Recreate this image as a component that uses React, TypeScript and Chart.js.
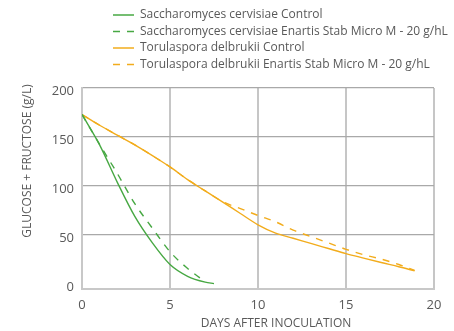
import React, { useEffect, useRef } from "react";
import { Chart, registerables } from "chart.js";

Chart.register(...registerables);

// ---- Data ----
const seriesLabels = [
  "Saccharomyces cervisiae Control",
  "Saccharomyces cervisiae Enartis Stab Micro M - 20 g/hL",
  "Torulaspora delbrukii Control",
  "Torulaspora delbrukii Enartis Stab Micro M - 20 g/hL",
];

const scControlDays = [0, 1, 2, 3, 4, 5, 6, 7, 7.5];
const scControl = [173, 142, 104, 69, 42, 20, 8, 2, 0.5];

const scStabDays = [0, 1, 2, 3, 4, 5, 6, 6.8];
const scStab = [173, 142.5, 113, 82, 57, 33, 16, 5];

const tdDays = [0, 1, 2, 3, 4, 5, 6, 7, 8, 9, 10, 11, 12, 13, 14, 15, 16, 17, 18, 18.9];
const tdControl = [173, 162, 152, 142, 131, 119.5, 106.5, 95, 83.6, 72, 60.5, 52, 46.8, 41.5, 36.3, 31.1, 26.5, 22, 17.7, 13.5];
const tdStab = [173, 162, 152, 142, 131, 119.5, 106.5, 95, 84, 77, 70, 63.5, 55, 48.5, 42, 35.5, 30, 25.5, 20, 14];

const xTicks = [0, 5, 10, 15, 20];
const yTicks = [0, 50, 100, 150, 200];

const xTitle = "DAYS AFTER INOCULATION";
const yTitle = "GLUCOSE + FRUCTOSE (g/L)";

const GREEN = "#47a843";
const ORANGE = "#f2ac1c";
const TEXT = "#595959";
const FONT = "'Open Sans', 'Noto Sans', sans-serif";

const pts = (xs: number[], ys: number[]) => xs.map((x, i) => ({ x, y: ys[i] }));

const overlayPlugin = {
  id: "overlay",
  afterDraw(chart: any) {
    const ctx = chart.ctx as CanvasRenderingContext2D;
    const area = chart.chartArea;
    ctx.save();
    // legend
    const rowY = [15, 31.5, 48, 64.5];
    chart.data.datasets.forEach((ds: any, i: number) => {
      const y = rowY[i];
      ctx.beginPath();
      ctx.strokeStyle = ds.borderColor;
      ctx.lineWidth = 1.5;
      ctx.setLineDash(ds.borderDash && ds.borderDash.length ? [7, 7] : []);
      ctx.moveTo(113, y);
      ctx.lineTo(134, y);
      ctx.stroke();
      ctx.setLineDash([]);
      ctx.fillStyle = TEXT;
      ctx.font = `12px ${FONT}`;
      ctx.textBaseline = "middle";
      ctx.textAlign = "left";
      ctx.fillText(ds.label, 140, y);
    });
    // axis titles
    ctx.fillStyle = TEXT;
    ctx.font = `12px ${FONT}`;
    ctx.textAlign = "center";
    ctx.textBaseline = "middle";
    ctx.fillText(xTitle, 276, 324);
    ctx.translate(28, 161);
    ctx.rotate(-Math.PI / 2);
    ctx.fillText(yTitle, 0, 0);
    ctx.restore();
  },
};

export default function App() {
  const ref = useRef<HTMLCanvasElement | null>(null);
  useEffect(() => {
    document.body.style.margin = "0";
    const canvas = ref.current;
    if (!canvas) return;
    const chart = new Chart(canvas, {
      type: "line",
      data: {
        datasets: [
          {
            label: seriesLabels[0],
            data: pts(scControlDays, scControl),
            borderColor: GREEN,
            borderWidth: 1.4,
            borderDash: [],
          },
          {
            label: seriesLabels[1],
            data: pts(scStabDays, scStab),
            borderColor: GREEN,
            borderWidth: 1.4,
            borderDash: [7, 7],
          },
          {
            label: seriesLabels[2],
            data: pts(tdDays, tdControl),
            borderColor: ORANGE,
            borderWidth: 1.4,
            borderDash: [],
          },
          {
            label: seriesLabels[3],
            data: pts(tdDays, tdStab),
            borderColor: ORANGE,
            borderWidth: 1.4,
            borderDash: [7, 7],
          },
        ] as any,
      },
      options: {
        responsive: false,
        animation: false,
        events: [],
        elements: {
          point: { radius: 0 },
          line: { cubicInterpolationMode: "monotone", fill: false },
        },
        layout: { padding: { left: 0, right: 20, top: 88, bottom: 0 } },
        plugins: { legend: { display: false }, tooltip: { enabled: false } },
        scales: {
          x: {
            type: "linear",
            min: 0,
            max: 20,
            afterBuildTicks: (s: any) => {
              s.ticks = xTicks.map((v) => ({ value: v }));
            },
            afterFit: (s: any) => {
              s.height = 42;
            },
            grid: {
              drawTicks: false,
              color: (c: any) => (c.tick && c.tick.value === 0 ? "rgba(0,0,0,0)" : "#c6c6c6"),
              lineWidth: 2,
            },
            border: { display: true, color: "#c8c8c8", width: 2 },
            ticks: { padding: 8, color: TEXT, font: { size: 13, family: FONT } },
          },
          y: {
            type: "linear",
            min: -5,
            max: 200,
            afterBuildTicks: (s: any) => {
              s.ticks = yTicks.map((v) => ({ value: v }));
            },
            afterFit: (s: any) => {
              s.width = 82;
            },
            grid: {
              drawTicks: false,
              color: (c: any) => (c.tick && c.tick.value === 0 ? "rgba(0,0,0,0)" : "#a9a9a9"),
              lineWidth: 1.2,
            },
            border: { display: true, color: "#c8c8c8", width: 2 },
            ticks: { padding: 8, labelOffset: 3, color: TEXT, font: { size: 13, family: FONT } },
          },
        },
      } as any,
      plugins: [overlayPlugin],
    });
    return () => chart.destroy();
  }, []);
  return (
    <div style={{ width: 454, height: 331, position: "relative", background: "#fff" }}>
      <canvas ref={ref} width={454} height={331} />
    </div>
  );
}
